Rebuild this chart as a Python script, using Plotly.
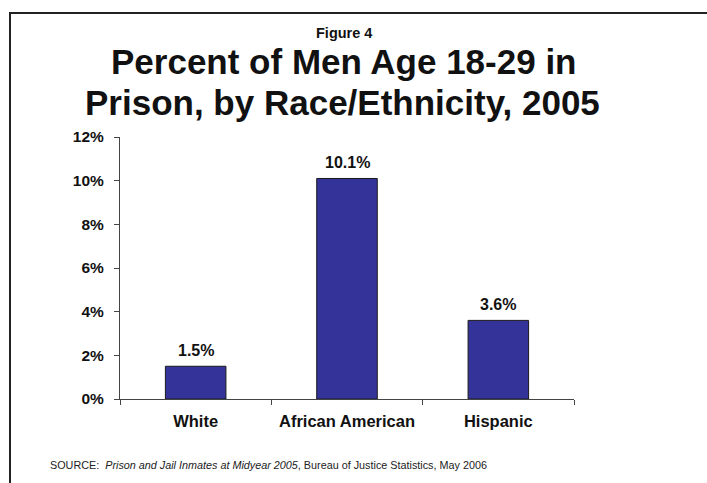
import plotly.graph_objects as go

# Data
categories = ["White", "African American", "Hispanic"]
percent_in_prison = [1.5, 10.1, 3.6]
y_ticks = [0, 2, 4, 6, 8, 10, 12]
y_tick_labels = [f"{v}%" for v in y_ticks]

W, H = 707, 483
ML, MR, MT, MB = 120, 133, 137, 84
PW, PH = W - ML - MR, H - MT - MB

FONT = "Arial, Liberation Sans, sans-serif"
BAR_COLOR = "#333399"


def px_x(x):
    return (x - ML) / PW


def px_y(y):
    return (H - MB - y) / PH


fig = go.Figure()
fig.add_trace(go.Bar(
    x=categories,
    y=percent_in_prison,
    width=0.4,
    marker=dict(color=BAR_COLOR, line=dict(color="#1a1a1a", width=1)),
    hoverinfo="skip",
))

# Value labels above each bar
for cat, val in zip(categories, percent_in_prison):
    fig.add_annotation(
        x=cat, y=val, xref="x", yref="y",
        text=f"{val:.1f}%", showarrow=False,
        yanchor="bottom", yshift=5,
        font=dict(family=FONT, size=16, color="#111", weight="bold"),
    )

# Titles
fig.add_annotation(x=px_x(344), y=px_y(33), xref="paper", yref="paper",
                   text="Figure 4", showarrow=False, xanchor="center", yanchor="middle",
                   borderpad=0,
                   font=dict(family=FONT, size=14.5, color="#111", weight="bold"))
fig.add_annotation(x=px_x(343.5), y=px_y(61.5), xref="paper", yref="paper",
                   text="Percent of Men Age 18-29 in", showarrow=False,
                   xanchor="center", yanchor="middle", borderpad=0,
                   font=dict(family=FONT, size=35, color="#111", weight="bold"))
fig.add_annotation(x=px_x(342.5), y=px_y(102.5), xref="paper", yref="paper",
                   text="Prison, by Race/Ethnicity, 2005", showarrow=False,
                   xanchor="center", yanchor="middle", borderpad=0,
                   font=dict(family=FONT, size=35, color="#111", weight="bold"))

# Source note
fig.add_annotation(x=px_x(48), y=px_y(465), xref="paper", yref="paper",
                   text="SOURCE:  <i>Prison and Jail Inmates at Midyear 2005</i>, "
                        "Bureau of Justice Statistics, May 2006",
                   showarrow=False, xanchor="left", yanchor="middle",
                   font=dict(family=FONT, size=10.8, color="#222"))

# Frame lines (left and top)
fig.add_shape(type="line", xref="paper", yref="paper",
              x0=px_x(10), x1=px_x(10), y0=px_y(H + 5), y1=px_y(13),
              line=dict(color="#222", width=2))
fig.add_shape(type="line", xref="paper", yref="paper",
              x0=px_x(9), x1=px_x(W + 5), y0=px_y(13), y1=px_y(13),
              line=dict(color="#222", width=2))

fig.update_layout(
    width=W, height=H,
    margin=dict(l=ML, r=MR, t=MT, b=MB),
    paper_bgcolor="white", plot_bgcolor="white",
    showlegend=False,
    bargap=0.6,
)
fig.update_xaxes(
    range=[-0.5, 2.5],
    showline=True, linecolor="#444", linewidth=1,
    ticks="outside", ticklen=5, tickcolor="#444", tickson="boundaries",
    showgrid=False, zeroline=False,
    tickfont=dict(family=FONT, size=16.5, color="#111", weight="bold"),
    ticklabelstandoff=7,
)
fig.update_yaxes(
    range=[0, 12],
    tickvals=y_ticks, ticktext=y_tick_labels,
    showline=True, linecolor="#444", linewidth=1,
    ticks="outside", ticklen=5, tickcolor="#444",
    showgrid=False, zeroline=False,
    tickfont=dict(family=FONT, size=15.5, color="#111", weight="bold"),
    ticklabelstandoff=7,
)

fig.write_html("out.html")
